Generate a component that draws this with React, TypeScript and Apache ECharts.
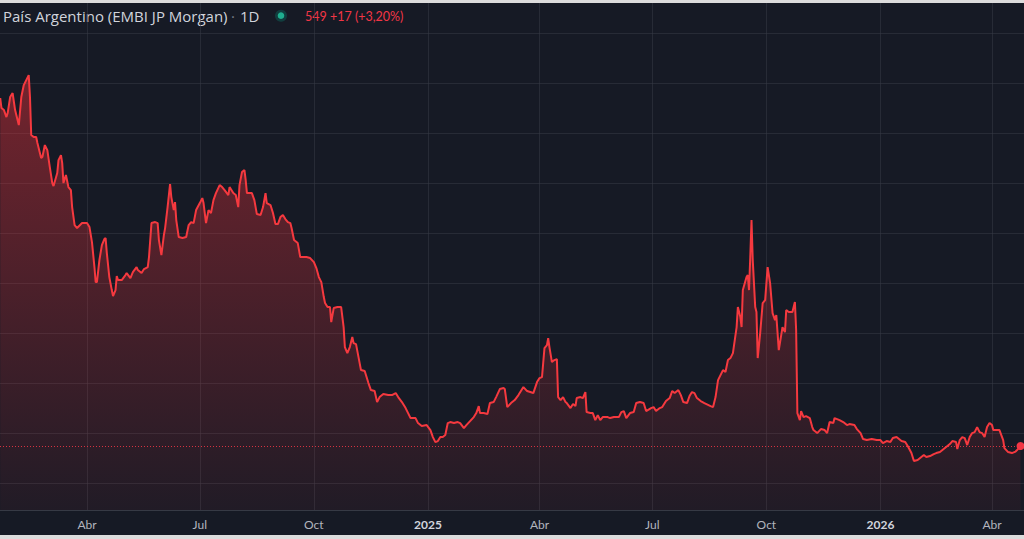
import React, { useEffect, useRef } from "react";
import * as echarts from "echarts";

const dates: string[] = [
  "2024-01-22","2024-01-23","2024-01-25","2024-01-27","2024-01-28","2024-01-30","2024-02-01","2024-02-03","2024-02-04","2024-02-06",
  "2024-02-08","2024-02-10","2024-02-12","2024-02-14","2024-02-15","2024-02-16","2024-02-18","2024-02-20","2024-02-21","2024-02-24",
  "2024-02-25","2024-02-27","2024-02-29","2024-03-02","2024-03-04","2024-03-05","2024-03-08","2024-03-09","2024-03-11","2024-03-12",
  "2024-03-13","2024-03-15","2024-03-17","2024-03-19","2024-03-20","2024-03-22","2024-03-24","2024-03-28","2024-04-01","2024-04-03",
  "2024-04-05","2024-04-07","2024-04-08","2024-04-09","2024-04-11","2024-04-13","2024-04-15","2024-04-16","2024-04-17","2024-04-19",
  "2024-04-21","2024-04-22","2024-04-24","2024-04-25","2024-04-26","2024-04-29","2024-05-02","2024-05-03","2024-05-06","2024-05-08",
  "2024-05-11","2024-05-12","2024-05-15","2024-05-17","2024-05-20","2024-05-21","2024-05-23","2024-05-26","2024-05-28","2024-05-29",
  "2024-05-31","2024-06-02","2024-06-03","2024-06-05","2024-06-07","2024-06-08","2024-06-10","2024-06-11","2024-06-12","2024-06-14",
  "2024-06-17","2024-06-20","2024-06-22","2024-06-24","2024-06-26","2024-06-28","2024-07-01","2024-07-03","2024-07-04","2024-07-06",
  "2024-07-08","2024-07-10","2024-07-12","2024-07-14","2024-07-17","2024-07-19","2024-07-21","2024-07-24","2024-07-25","2024-07-28",
  "2024-07-30","2024-08-01","2024-08-02","2024-08-04","2024-08-06","2024-08-07","2024-08-08","2024-08-12","2024-08-14","2024-08-16",
  "2024-08-19","2024-08-21","2024-08-23","2024-08-24","2024-08-27","2024-08-29","2024-08-31","2024-09-02","2024-09-04","2024-09-06",
  "2024-09-08","2024-09-10","2024-09-12","2024-09-13","2024-09-15","2024-09-17","2024-09-18","2024-09-20","2024-09-22","2024-09-25",
  "2024-09-28","2024-10-01","2024-10-03","2024-10-05","2024-10-07","2024-10-09","2024-10-10","2024-10-12","2024-10-14","2024-10-15",
  "2024-10-17","2024-10-20","2024-10-23","2024-10-25","2024-10-26","2024-10-28","2024-10-30","2024-11-01","2024-11-02","2024-11-04",
  "2024-11-06","2024-11-08","2024-11-11","2024-11-14","2024-11-16","2024-11-19","2024-11-21","2024-11-23","2024-11-26","2024-11-30",
  "2024-12-03","2024-12-06","2024-12-08","2024-12-11","2024-12-14","2024-12-16","2024-12-18","2024-12-22","2024-12-24","2024-12-27",
  "2024-12-31","2025-01-03","2025-01-05","2025-01-07","2025-01-09","2025-01-11","2025-01-13","2025-01-15","2025-01-17","2025-01-19",
  "2025-01-22","2025-01-25","2025-01-27","2025-01-30","2025-02-01","2025-02-04","2025-02-07","2025-02-09","2025-02-11","2025-02-12",
  "2025-02-15","2025-02-18","2025-02-20","2025-02-23","2025-02-25","2025-02-28","2025-03-03","2025-03-04","2025-03-06","2025-03-09",
  "2025-03-12","2025-03-15","2025-03-19","2025-03-22","2025-03-27","2025-03-30","2025-04-01","2025-04-03","2025-04-05","2025-04-07",
  "2025-04-08","2025-04-09","2025-04-11","2025-04-13","2025-04-15","2025-04-16","2025-04-18","2025-04-20","2025-04-22","2025-04-23",
  "2025-04-26","2025-04-28","2025-04-30","2025-05-01","2025-05-04","2025-05-06","2025-05-08","2025-05-09","2025-05-12","2025-05-14",
  "2025-05-16","2025-05-18","2025-05-20","2025-05-22","2025-05-26","2025-05-28","2025-05-31","2025-06-04","2025-06-06","2025-06-08",
  "2025-06-10","2025-06-13","2025-06-16","2025-06-18","2025-06-21","2025-06-24","2025-06-26","2025-06-30","2025-07-02","2025-07-04",
  "2025-07-07","2025-07-09","2025-07-12","2025-07-15","2025-07-17","2025-07-19","2025-07-22","2025-07-24","2025-07-26","2025-07-29",
  "2025-07-31","2025-08-02","2025-08-04","2025-08-06","2025-08-09","2025-08-12","2025-08-17","2025-08-19","2025-08-21","2025-08-23",
  "2025-08-25","2025-08-27","2025-08-29","2025-08-31","2025-09-02","2025-09-04","2025-09-07","2025-09-08","2025-09-10","2025-09-11",
  "2025-09-12","2025-09-15","2025-09-16","2025-09-17","2025-09-18","2025-09-19","2025-09-20","2025-09-22","2025-09-23","2025-09-24",
  "2025-09-26","2025-09-28","2025-09-30","2025-10-02","2025-10-04","2025-10-06","2025-10-08","2025-10-09","2025-10-11","2025-10-14",
  "2025-10-16","2025-10-17","2025-10-19","2025-10-22","2025-10-24","2025-10-25","2025-10-26","2025-10-28","2025-10-29","2025-10-31",
  "2025-11-02","2025-11-05","2025-11-07","2025-11-08","2025-11-11","2025-11-14","2025-11-17","2025-11-19","2025-11-21","2025-11-24",
  "2025-11-25","2025-11-29","2025-12-02","2025-12-05","2025-12-07","2025-12-11","2025-12-13","2025-12-16","2025-12-18","2025-12-21",
  "2025-12-25","2025-12-29","2026-01-01","2026-01-03","2026-01-06","2026-01-09","2026-01-11","2026-01-14","2026-01-16","2026-01-18",
  "2026-01-21","2026-01-23","2026-01-26","2026-01-28","2026-01-31","2026-02-02","2026-02-05","2026-02-07","2026-02-10","2026-02-13",
  "2026-02-15","2026-02-18","2026-02-21","2026-02-23","2026-02-26","2026-02-28","2026-03-03","2026-03-04","2026-03-06","2026-03-08",
  "2026-03-10","2026-03-12","2026-03-14","2026-03-16","2026-03-18","2026-03-20","2026-03-22","2026-03-24","2026-03-26","2026-03-28",
  "2026-03-30","2026-04-01","2026-04-02","2026-04-05","2026-04-07","2026-04-10","2026-04-11","2026-04-14","2026-04-17","2026-04-20",
  "2026-04-21","2026-04-24",
];

const values: number[] = [
  1941,1901,1893,1865,1881,1945,1961,1893,1873,1833,
  1945,1993,2013,2033,1945,1793,1785,1785,1761,1701,
  1705,1753,1733,1665,1601,1589,1641,1693,1713,1681,
  1601,1633,1585,1573,1505,1433,1421,1441,1441,1425,
  1365,1265,1205,1205,1293,1353,1377,1381,1321,1225,
  1173,1149,1173,1229,1213,1213,1233,1241,1221,1245,
  1265,1253,1241,1257,1265,1305,1441,1445,1441,1373,
  1313,1393,1421,1505,1597,1545,1493,1525,1453,1385,
  1381,1385,1433,1445,1441,1493,1521,1541,1521,1441,
  1493,1481,1533,1561,1593,1585,1573,1553,1585,1561,
  1553,1505,1593,1645,1653,1613,1561,1561,1533,1477,
  1473,1505,1561,1521,1513,1481,1437,1437,1465,1473,
  1457,1445,1441,1421,1373,1365,1361,1305,1305,1305,
  1301,1285,1261,1225,1205,1145,1121,1105,1105,1045,
  1101,1105,1105,1025,945,921,945,985,961,957,
  905,853,849,801,773,769,725,745,757,753,
  753,761,745,725,701,681,661,661,641,629,
  633,613,585,565,569,585,585,593,641,645,
  641,645,641,621,633,649,665,681,709,681,
  681,677,721,725,745,777,781,777,705,721,
  733,753,785,769,761,805,821,825,941,953,
  981,945,885,893,897,745,733,745,725,721,
  701,717,709,741,745,741,765,685,681,681,
  653,673,653,665,665,661,665,665,685,689,
  661,681,685,721,725,721,689,701,705,689,
  701,705,729,741,769,761,773,753,725,721,
  749,765,761,741,729,721,709,705,745,813,
  833,853,845,893,901,921,1025,1105,1065,1025,
  1173,1225,1233,1173,1305,1453,1293,1105,1085,901,
  1001,1121,1133,1265,1201,1081,1053,1073,933,1025,
  1005,1093,1085,1085,1125,1013,681,653,689,665,
  669,661,625,613,601,617,613,601,645,641,
  661,653,645,633,637,633,617,601,577,573,
  577,573,573,561,569,565,581,585,577,569,
  565,549,521,489,493,501,513,505,509,517,
  521,525,537,545,557,569,565,537,573,585,
  581,553,585,601,605,625,605,601,585,625,
  641,633,613,613,613,573,541,525,521,527,
  532,549,
];

const tickDates: string[] = [
  "2024-04-01","2024-07-01","2024-10-01","2025-01-01","2025-04-01",
  "2025-07-01","2025-10-01","2026-01-01","2026-04-01",
];
const tickLabels: string[] = ["Abr","Jul","Oct","2025","Abr","Jul","Oct","2026","Abr"];
const gridValues: number[] = [400,600,800,1000,1200,1400,1600,1800,2000,2200];

const titleText = "País Argentino (EMBI JP Morgan)";
const intervalText = "1D";

const toTs = (s: string) => {
  const [y, m, d] = s.split("-").map(Number);
  return new Date(y, m - 1, d).getTime();
};

export default function App() {
  const ref = useRef<HTMLDivElement>(null);

  useEffect(() => {
    document.body.style.margin = "0";
    if (!ref.current) return;
    const chart = echarts.init(ref.current, undefined, { renderer: "svg" });

    const n = values.length;
    const last = values[n - 1];
    const prev = values[n - 2];
    const chg = last - prev;
    const pct = ((chg / prev) * 100).toFixed(2).replace(".", ",");
    const priceText = `${last} ${chg >= 0 ? "+" : ""}${chg} (${chg >= 0 ? "+" : ""}${pct}%)`;

    const tickTs = tickDates.map(toTs);
    const seriesData = dates.map((d, i) => [toTs(d), values[i]]);
    const red = "#f23645";
    const font = "Lato";
    const titleFont = "Open Sans";

    chart.setOption({
      animation: false,
      backgroundColor: "#161a25",
      grid: { left: 0, right: 0, top: 0, bottom: 25, containLabel: false },
      xAxis: {
        type: "value",
        min: new Date(2024, 0, 21, 19, 40).getTime(),
        max: new Date(2026, 3, 26, 19, 12).getTime(),
        axisLine: { show: true, lineStyle: { color: "#363a45", width: 1 } },
        axisTick: { show: false },
        splitLine: { show: false },
        axisLabel: {
          customValues: tickTs,
          margin: 8,
          fontSize: 12,
          fontFamily: font,
          color: "#b2b5be",
          hideOverlap: false,
          showMinLabel: true,
          showMaxLabel: true,
          formatter: (v: number) => {
            let best = 0;
            for (let i = 1; i < tickTs.length; i++) {
              if (Math.abs(tickTs[i] - v) < Math.abs(tickTs[best] - v)) best = i;
            }
            const lab = tickLabels[best];
            return /^\d{4}$/.test(lab) ? `{y|${lab}}` : lab;
          },
          rich: {
            y: { fontSize: 12, fontFamily: font, fontWeight: "bold", color: "#d1d4dc" },
          },
        },
      },
      yAxis: {
        type: "value",
        min: 293.3,
        max: 2321.3,
        show: false,
        splitLine: { show: false },
      },
      graphic: [
        {
          type: "text",
          x: 3,
          y: 13,
          style: { text: titleText, fill: "#d1d4dc", fontSize: 15, fontFamily: titleFont, verticalAlign: "middle" },
        },
        {
          type: "text",
          x: 231,
          y: 13,
          style: { text: "·", fill: "#787b86", fontSize: 15, fontFamily: titleFont, verticalAlign: "middle" },
        },
        {
          type: "text",
          x: 240,
          y: 13,
          style: { text: intervalText, fill: "#d1d4dc", fontSize: 15, fontFamily: titleFont, verticalAlign: "middle" },
        },
        {
          type: "circle",
          shape: { cx: 281, cy: 12.7, r: 6 },
          style: { fill: "rgba(8,153,129,0.28)" },
        },
        {
          type: "circle",
          shape: { cx: 281, cy: 12.7, r: 3.3 },
          style: { fill: "#1fae8f" },
        },
        {
          type: "text",
          x: 305,
          y: 13,
          style: { text: priceText, fill: red, fontSize: 12.5, fontFamily: font, verticalAlign: "middle" },
        },
      ],
      series: [
        {
          type: "line",
          name: "grid",
          data: [],
          silent: true,
          z: 1,
          markLine: {
            silent: true,
            symbol: "none",
            z: 1,
            animation: false,
            label: { show: false },
            lineStyle: { type: "solid", color: "rgba(54,58,69,0.55)", width: 1 },
            data: [
              ...gridValues.map((v) => ({ yAxis: v })),
              ...tickTs.map((t) => ({ xAxis: t })),
            ],
          },
        },
        {
          type: "line",
          name: "EMBI",
          data: seriesData,
          showSymbol: false,
          symbol: "none",
          smooth: false,
          z: 3,
          lineStyle: { color: "#f5393f", width: 2 },
          areaStyle: {
            color: new echarts.graphic.LinearGradient(0, 0, 0, 1, [
              { offset: 0, color: "rgba(245,50,58,0.6)" },
              { offset: 1, color: "rgba(245,50,58,0.07)" },
            ]),
          },
          markLine: {
            silent: true,
            symbol: "none",
            z: 4,
            animation: false,
            label: { show: false },
            lineStyle: { type: [1, 2], color: "rgba(242,54,69,0.85)", width: 1 },
            data: [{ yAxis: last }],
          },
          markPoint: {
            silent: true,
            animation: false,
            symbol: "circle",
            symbolSize: 8,
            z: 5,
            label: { show: false },
            itemStyle: { color: red },
            data: [{ coord: seriesData[n - 1] }],
          },
        },
      ],
    });

    return () => chart.dispose();
  }, []);

  return (
    <div style={{ width: 1024, height: 539, background: "#dcdcdc", paddingTop: 3, boxSizing: "border-box" }}>
      <div ref={ref} style={{ width: 1024, height: 532 }} />
    </div>
  );
}
